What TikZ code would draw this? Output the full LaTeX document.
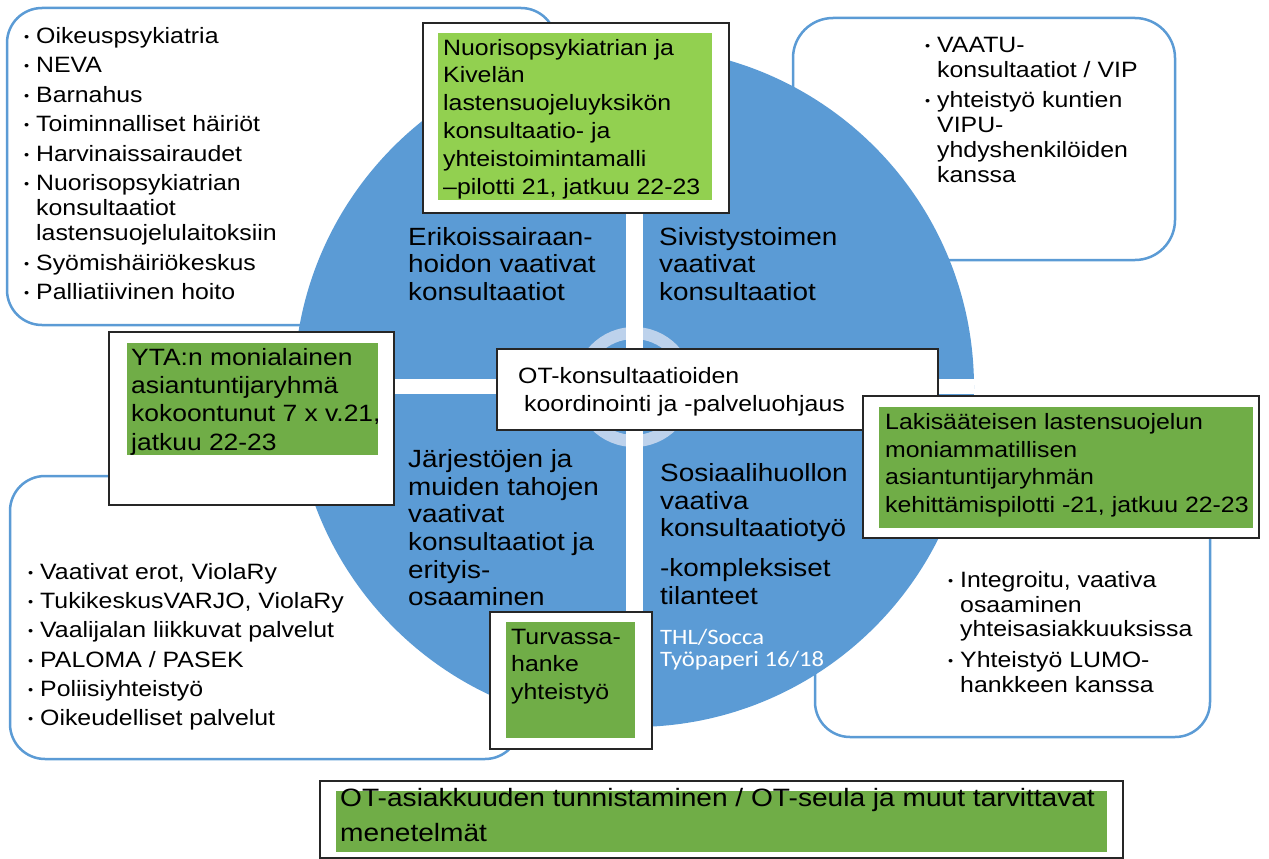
\documentclass[tikz,border=0pt]{standalone}
\usepackage{fontspec}
\setmainfont{Liberation Sans}[FakeStretch=1.12]
\newfontfamily\calfont{Carlito}[FakeStretch=1.12]
\definecolor{circblue}{RGB}{91,155,213}
\definecolor{ringblue}{RGB}{189,210,236}
\definecolor{lightgreen}{RGB}{146,208,80}
\definecolor{darkgreen}{RGB}{112,173,71}
\newcommand\setfs[2]{\fontsize{#1}{#2}\selectfont}
\newcommand\bul{\makebox[12pt][l]{\raisebox{2pt}{\setfs{13}{13}•}}}
\newcommand\contd{\hspace*{12pt}}

\begin{document}
\begin{tikzpicture}[x=1pt,y=-1pt,
  roundbox/.style={draw=circblue, line width=2.5pt, fill=white, rounded corners=35pt},
  frame/.style={draw=black!85, line width=1.5pt, fill=white},
  txt/.style={anchor=north west, inner sep=0pt, align=left},
  listtxt/.style={txt, font=\setfs{22.2}{25}},
  quadtxt/.style={txt, font=\setfs{24.9}{27.3}}]
\useasboundingbox (0,0) rectangle (1269,859);

\draw[roundbox] (7,8) rectangle (556,325);
\draw[roundbox, rounded corners=40pt] (793,18) rectangle (1175,260);
\draw[roundbox] (10,476) rectangle (520,759);
\draw[roundbox] (815,445) rectangle (1210,737);

\node[listtxt] (tllist) at (24,25.5) {\strut\bul Oikeuspsykiatria\\[4.5pt]
  \bul NEVA\\[4.5pt]
  \bul Barnahus\\[4.5pt]
  \bul Toiminnalliset häiriöt\\[4.5pt]
  \bul Harvinaissairaudet\\[4.5pt]
  \bul Nuorisopsykiatrian\\ \contd konsultaatiot\\ \contd lastensuojelulaitoksiin\\[4.5pt]
  \bul Syömishäiriökeskus\\[4.5pt]
  \bul Palliatiivinen hoito};
\node[listtxt] (trlist) at (925,35) {\strut\bul VAATU-\\ \contd konsultaatiot / VIP\\[5pt]
  \bul yhteistyö kuntien\\ \contd VIPU-\\ \contd yhdyshenkilöiden\\ \contd kanssa};
\node[listtxt] (bllist) at (28,561.8) {\strut\bul Vaativat erot, ViolaRy\\[4.2pt]
  \bul TukikeskusVARJO, ViolaRy\\[4.2pt]
  \bul Vaalijalan liikkuvat palvelut\\[4.2pt]
  \bul PALOMA / PASEK\\[4.2pt]
  \bul Poliisiyhteistyö\\[4.2pt]
  \bul Oikeudelliset palvelut};
\node[listtxt, font=\setfs{22.2}{24.5}] (brlist) at (948,570.5) {\strut\bul Integroitu, vaativa\\ \contd osaaminen\\ \contd yhteisasiakkuuksissa\\[6.5pt]
  \bul Yhteistyö LUMO-\\ \contd hankkeen kanssa};

\fill[circblue] (634,387) circle (340pt);
\fill[ringblue, even odd rule] (634,387) circle (60pt) (634,387) circle (48pt);
\begin{scope}
\clip (634,387) circle (340pt);
\fill[white] (626,40) rectangle (643,735);
\fill[white] (290,379) rectangle (980,394);
\end{scope}

\node[quadtxt] (erikois) at (408,226.1) {\strut Erikoissairaan-\\hoidon vaativat\\konsultaatiot};
\node[quadtxt] (sivistys) at (659,226.1) {\strut Sivistystoimen\\vaativat\\konsultaatiot};
\node[quadtxt, font=\setfs{24.9}{27.6}] (jarjesto) at (408,448.1) {\strut Järjestöjen ja\\muiden tahojen\\vaativat\\konsultaatiot ja\\erityis-\\osaaminen};
\node[quadtxt, font=\setfs{24.9}{27.5}] (sosiaali) at (660,462.4) {\strut Sosiaalihuollon\\vaativa\\konsultaatiotyö\\[12.5pt]-kompleksiset\\tilanteet};
\node[txt, text=white, font=\calfont\setfs{22}{22.7}] (thl) at (660,628.1) {\strut THL/Socca\\Työpaperi 16/18};

\draw[frame] (423,23) rectangle (729,213);
\fill[lightgreen] (438,33) rectangle (712,200);
\node[txt, font=\setfs{22.2}{27.8}] (nuoriso) at (443,35.5) {\strut Nuorisopsykiatrian ja\\Kivelän\\lastensuojeluyksikön\\konsultaatio- ja\\yhteistoimintamalli\\–pilotti 21, jatkuu 22-23};

\draw[frame] (109,332) rectangle (394,505);
\fill[darkgreen] (127,343) rectangle (378,455);
\node[txt, font=\setfs{23.6}{28.3}] (yta) at (131,345.2) {\strut YTA:n monialainen\\asiantuntijaryhmä\\kokoontunut 7 x v.21,\\jatkuu 22-23};

\draw[frame] (497,349) rectangle (938,430);
\node[txt, font=\setfs{22.2}{28}] (otkoord) at (518,363.4) {\strut OT-konsultaatioiden\\\hspace*{6pt}koordinointi ja -palveluohjaus};

\draw[frame] (863,396) rectangle (1259,538);
\fill[darkgreen] (879,407) rectangle (1253,528);
\node[txt, font=\setfs{22.2}{27.7}] (lakis) at (885,410) {\strut Lakisääteisen lastensuojelun\\moniammatillisen\\asiantuntijaryhmän\\kehittämispilotti -21, jatkuu 22-23};

\draw[frame] (490,612) rectangle (652,749);
\fill[darkgreen] (506,622) rectangle (635,738);
\node[txt, font=\setfs{22.2}{27.5}] (turvassa) at (511,624.75) {\strut Turvassa-\\hanke\\yhteistyö};

\draw[frame] (320,781) rectangle (1123,858);
\fill[darkgreen] (336,791) rectangle (1107,852);
\node[txt, font=\setfs{25.1}{35}] (otseula) at (340,782.2) {\strut OT-asiakkuuden tunnistaminen / OT-seula ja muut tarvittavat\\menetelmät};
\end{tikzpicture}
\end{document}
